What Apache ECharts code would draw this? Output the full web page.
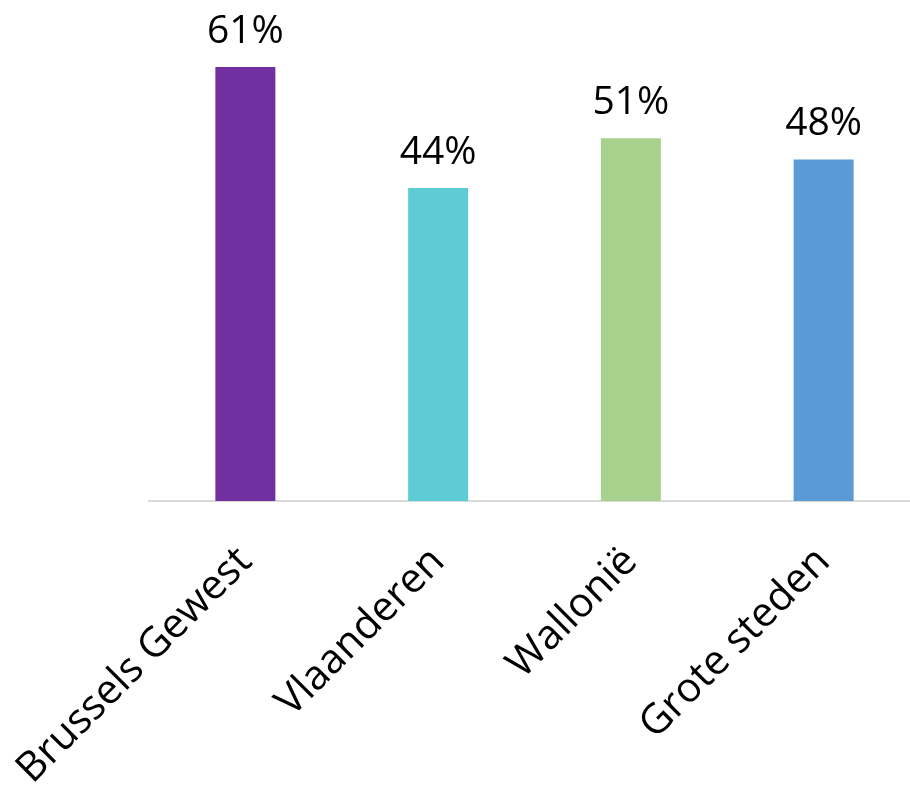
<!DOCTYPE html>
<html>
<head>
<meta charset="utf-8">
<script src="https://cdn.jsdelivr.net/npm/echarts@6/dist/echarts.min.js"></script>
<style>
html,body{margin:0;padding:0;background:#fff;overflow:hidden;width:910px;height:789px;}
#chart{width:930px;height:789px;}
</style>
</head>
<body>
<div id="chart"></div>
<script>
const categories = ['Brussels Gewest', 'Vlaanderen', 'Wallonië', 'Grote steden'];
const values = [61, 44, 51, 48];
const barColors = ['#7030A0', '#5ECCD4', '#A9D18E', '#5B9BD5'];

const chart = echarts.init(document.getElementById('chart'), null, {renderer: 'canvas'});
chart.setOption({
  animation: false,
  backgroundColor: '#ffffff',
  grid: {left: 149, right: 10, top: 3, bottom: 288, containLabel: false, outerBoundsMode: 'none'},
  xAxis: {
    type: 'category',
    data: categories,
    axisLine: {show: true, lineStyle: {color: '#d9d9d9', width: 2}},
    axisTick: {show: false},
    axisLabel: {
      interval: 0,
      rotate: 45,
      margin: 54,
      fontFamily: 'Open Sans',
      fontSize: 41,
      color: '#000'
    }
  },
  yAxis: {
    type: 'value',
    min: 0,
    max: 70,
    show: false,
    splitLine: {show: false}
  },
  series: [{
    type: 'bar',
    data: values.map((v, i) => ({value: v, itemStyle: {color: barColors[i]}})),
    barWidth: 60,
    label: {
      show: true,
      position: 'top',
      distance: 16,
      formatter: p => p.value + '%',
      fontFamily: 'Open Sans',
      fontSize: 39,
      color: '#000'
    }
  }]
});
</script>
</body>
</html>
